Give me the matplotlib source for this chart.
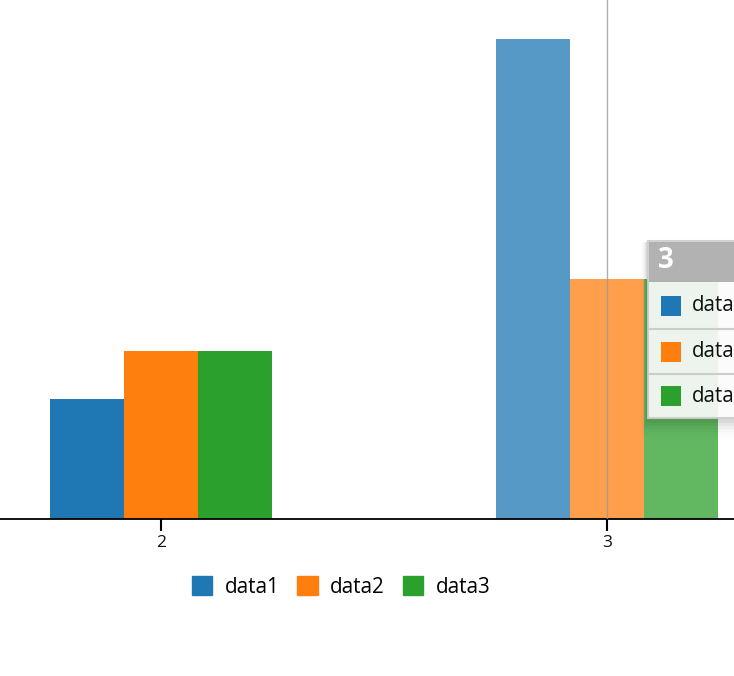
import numpy as np
import matplotlib.pyplot as plt
from matplotlib.patches import Rectangle

# datos visibles del grafico (categorias 2 y 3)
categorias = [2, 3]
data1 = [50, 200]
data2 = [70, 100]
data3 = [70, 100]
series = ['data1', 'data2', 'data3']
colores = ['#1f77b4', '#ff7f0e', '#2ca02c']
foco = 3  # categoria con el tooltip

plt.rcParams['font.family'] = ['Open Sans', 'DejaVu Sans']

fig = plt.figure(figsize=(7.34, 6.76), dpi=100)
ax = fig.add_axes([0, 1 - 519 / 676, 1, 519 / 676])

ancho = 74 / 446
x = np.array(categorias, dtype=float)
valores = [data1, data2, data3]
for k, (vals, col) in enumerate(zip(valores, colores)):
    alfas = [0.75 if c == foco else 1.0 for c in categorias]
    for xi, v, a in zip(x, vals, alfas):
        ax.bar(xi + (k - 1) * ancho, v, ancho, color=col, alpha=a, linewidth=0)

ax.set_xlim(2 - 161 / 446, 2 + 573 / 446)
ax.set_ylim(0, 519 / 2.4)

for s in ['top', 'right', 'left']:
    ax.spines[s].set_visible(False)
ax.spines['bottom'].set_linewidth(1.3)
ax.set_yticks([])
ax.set_xticks(categorias)
ax.set_xticklabels([str(c) for c in categorias], fontsize=12.5, color='#111111')
ax.tick_params(axis='x', length=8.5, width=1.5, pad=3)

# linea de foco
ax.axvline(foco, color='#999999', lw=1, alpha=0.8, zorder=5)

# tooltip (recortado a la derecha)
def px(xp, yp):
    return xp / 734, 1 - yp / 676

def caja(x0, y0, x1, y1, **kw):
    fx0, fy1 = px(x0, y1)
    fx1, fy0 = px(x1, y0)
    fig.patches.append(Rectangle((fx0, fy1), fx1 - fx0, fy0 - fy1,
                                 transform=fig.transFigure, **kw))

# sombra
for i, a in enumerate([0.05, 0.035, 0.025, 0.018, 0.012, 0.008]):
    caja(646 - i, 242, 740, 420 + 3 * (i + 1), facecolor='black', alpha=a,
         linewidth=0, zorder=6)
caja(648, 241, 740, 418, facecolor='white', alpha=0.9, edgecolor='#cccccc',
     linewidth=1.5, zorder=7)
caja(649, 242, 740, 282, facecolor='#aaaaaa', alpha=0.9, linewidth=0, zorder=8)
fig.text(*px(658, 261), str(foco), color='white', fontsize=20, fontweight='bold',
         va='center', ha='left', zorder=9)
filas = [282, 329, 374, 418]
for i, (nom, col) in enumerate(zip(series, colores)):
    y0, y1 = filas[i], filas[i + 1]
    if i > 0:
        fig.lines.append(plt.Line2D([649 / 734, 1], [1 - y0 / 676] * 2,
                                    transform=fig.transFigure, color='#cccccc',
                                    lw=1.5, zorder=9))
    yc = (y0 + y1) / 2
    caja(661, yc - 10, 681, yc + 10, facecolor=col, linewidth=0, zorder=9)
    fig.text(*px(692, yc), nom, fontsize=14.8, va='center', ha='left',
             color='#111111', zorder=9)

# leyenda
handles = [Rectangle((0, 0), 1, 1, color=c) for c in colores]
fig.legend(handles, series, loc='center', bbox_to_anchor=(341 / 734, 1 - 587 / 676),
           ncol=3, frameon=False, fontsize=14.9, handlelength=1.0, handleheight=1.0,
           handletextpad=0.6, columnspacing=0.85, borderpad=0, borderaxespad=0)

fig.savefig('out.png', dpi=100)
